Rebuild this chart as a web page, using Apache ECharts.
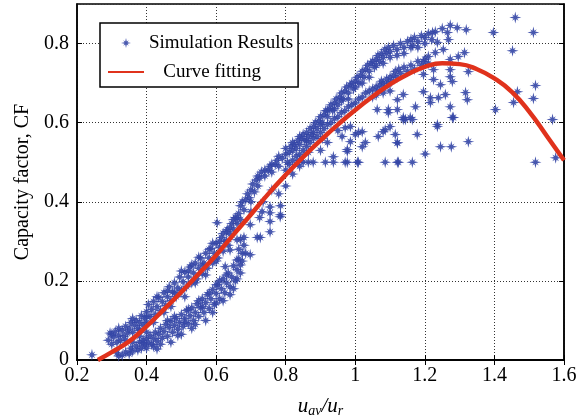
<!DOCTYPE html>
<html>
<head>
<meta charset="utf-8">
<title>Capacity factor</title>
<script src="https://cdn.jsdelivr.net/npm/echarts@6/dist/echarts.min.js"></script>
<style>
  html, body { margin: 0; padding: 0; background: #fff; }
  #chart { width: 580px; height: 417px; }
</style>
</head>
<body>
<div id="chart"></div>
<script>
// x tick labels (u_av/u_r) and y tick labels (CF)
const xTicks = [0.2, 0.4, 0.6, 0.8, 1, 1.2, 1.4, 1.6];
const yTicks = [0, 0.2, 0.4, 0.6, 0.8];

// simulation results, grouped by region
const lowerBand = [
  [0.243, 0.013], [0.315, 0.018], [0.32, 0.01], [0.33, 0.012], [0.34, 0.02], [0.35, 0.015],
  [0.355, 0.03], [0.36, 0.022], [0.37, 0.035], [0.375, 0.025], [0.38, 0.045], [0.385, 0.03],
  [0.39, 0.05], [0.395, 0.038], [0.40, 0.055], [0.40, 0.03], [0.405, 0.045], [0.41, 0.062],
  [0.415, 0.04], [0.42, 0.055], [0.425, 0.07], [0.43, 0.048], [0.435, 0.065], [0.44, 0.08],
  [0.445, 0.055], [0.45, 0.072], [0.455, 0.09], [0.46, 0.06], [0.465, 0.082], [0.47, 0.098],
  [0.475, 0.07], [0.48, 0.088], [0.485, 0.105], [0.49, 0.078], [0.495, 0.095], [0.50, 0.115],
  [0.505, 0.085], [0.51, 0.105], [0.515, 0.125], [0.52, 0.092], [0.525, 0.112], [0.53, 0.132],
  [0.535, 0.10], [0.54, 0.12], [0.545, 0.142], [0.55, 0.11], [0.555, 0.132], [0.56, 0.155],
  [0.565, 0.12], [0.57, 0.145], [0.575, 0.165], [0.58, 0.13], [0.585, 0.155], [0.59, 0.178],
  [0.595, 0.14], [0.60, 0.168], [0.605, 0.19], [0.61, 0.155], [0.615, 0.18], [0.62, 0.205],
  [0.625, 0.17], [0.63, 0.195], [0.635, 0.22], [0.64, 0.185], [0.645, 0.21], [0.65, 0.238],
  [0.655, 0.20], [0.66, 0.228], [0.665, 0.255], [0.67, 0.24], [0.675, 0.27], [0.68, 0.29],
  [0.665, 0.28], [0.67, 0.305], [0.39, 0.043], [0.60, 0.144], [0.43, 0.028],
  [0.36, 0.045], [0.38, 0.06], [0.40, 0.07], [0.42, 0.035], [0.44, 0.04], [0.46, 0.10],
  [0.47, 0.045], [0.48, 0.11], [0.50, 0.065], [0.52, 0.128], [0.53, 0.08], [0.54, 0.09],
  [0.55, 0.15], [0.57, 0.10], [0.58, 0.17], [0.59, 0.12], [0.60, 0.19], [0.61, 0.20],
  [0.62, 0.15], [0.63, 0.215], [0.64, 0.165], [0.65, 0.18], [0.66, 0.205], [0.67, 0.22],
  [0.675, 0.25], [0.68, 0.31], [0.685, 0.27], [0.56, 0.135], [0.51, 0.095], [0.49, 0.062]
];

const upperBand = [
  [0.29, 0.05], [0.295, 0.068], [0.30, 0.04], [0.305, 0.058], [0.31, 0.072], [0.315, 0.045],
  [0.32, 0.062], [0.325, 0.05], [0.33, 0.075], [0.335, 0.06], [0.34, 0.085], [0.345, 0.068],
  [0.35, 0.078], [0.355, 0.095], [0.36, 0.07], [0.365, 0.088], [0.37, 0.10], [0.375, 0.08],
  [0.38, 0.095], [0.385, 0.112], [0.39, 0.088], [0.395, 0.105], [0.40, 0.122], [0.40, 0.095],
  [0.405, 0.14], [0.41, 0.11], [0.415, 0.128], [0.42, 0.148], [0.425, 0.115], [0.43, 0.135],
  [0.435, 0.158], [0.44, 0.125], [0.445, 0.148], [0.45, 0.17], [0.455, 0.138], [0.46, 0.16],
  [0.465, 0.185], [0.47, 0.15], [0.475, 0.172], [0.48, 0.195], [0.485, 0.16], [0.49, 0.182],
  [0.495, 0.21], [0.50, 0.175], [0.505, 0.198], [0.51, 0.222], [0.515, 0.185], [0.52, 0.21],
  [0.525, 0.235], [0.53, 0.195], [0.535, 0.22], [0.54, 0.245], [0.545, 0.205], [0.55, 0.232],
  [0.555, 0.258], [0.56, 0.218], [0.565, 0.245], [0.57, 0.27], [0.575, 0.232], [0.58, 0.258],
  [0.585, 0.282], [0.59, 0.245], [0.595, 0.27], [0.60, 0.295], [0.605, 0.258], [0.61, 0.285],
  [0.615, 0.31], [0.62, 0.275], [0.625, 0.30], [0.63, 0.325], [0.635, 0.29], [0.64, 0.318],
  [0.645, 0.345], [0.65, 0.33], [0.655, 0.36], [0.66, 0.345], [0.665, 0.37], [0.67, 0.355],
  [0.675, 0.40], [0.685, 0.405], [0.695, 0.41], [0.70, 0.43], [0.705, 0.445], [0.71, 0.425],
  [0.715, 0.455], [0.72, 0.44], [0.725, 0.46], [0.73, 0.475], [0.74, 0.465], [0.75, 0.48],
  [0.755, 0.49], [0.76, 0.475], [0.77, 0.495], [0.775, 0.505], [0.78, 0.49], [0.79, 0.51],
  [0.80, 0.52], [0.805, 0.50],
  [0.30, 0.065], [0.32, 0.08], [0.34, 0.05], [0.36, 0.105], [0.38, 0.075], [0.40, 0.11],
  [0.42, 0.095], [0.43, 0.16], [0.45, 0.12], [0.46, 0.175], [0.47, 0.135], [0.48, 0.17],
  [0.50, 0.225], [0.51, 0.16], [0.52, 0.225], [0.53, 0.24], [0.54, 0.195], [0.55, 0.26],
  [0.56, 0.24], [0.57, 0.215], [0.58, 0.28], [0.59, 0.295], [0.60, 0.25], [0.61, 0.30],
  [0.62, 0.32], [0.63, 0.30], [0.64, 0.335], [0.65, 0.355], [0.66, 0.36], [0.67, 0.39],
  [0.68, 0.38], [0.69, 0.42], [0.70, 0.40], [0.72, 0.465], [0.74, 0.48], [0.76, 0.495],
  [0.78, 0.515], [0.80, 0.535]
];

const upperBandHigh = [
  [0.81, 0.525], [0.815, 0.54], [0.82, 0.53], [0.825, 0.545], [0.83, 0.535], [0.835, 0.555],
  [0.84, 0.545], [0.845, 0.56], [0.85, 0.57], [0.855, 0.555], [0.86, 0.575], [0.865, 0.565],
  [0.87, 0.585], [0.875, 0.57], [0.88, 0.59], [0.885, 0.60], [0.89, 0.585], [0.895, 0.605],
  [0.90, 0.615], [0.905, 0.60], [0.91, 0.62], [0.915, 0.63], [0.92, 0.615], [0.925, 0.635],
  [0.93, 0.645], [0.935, 0.63], [0.94, 0.65], [0.945, 0.66], [0.95, 0.645], [0.955, 0.665],
  [0.96, 0.675], [0.965, 0.66], [0.97, 0.68], [0.975, 0.69], [0.98, 0.675], [0.985, 0.695],
  [0.99, 0.70], [0.995, 0.685], [1.0, 0.705], [1.005, 0.715], [1.01, 0.70], [1.015, 0.72],
  [1.02, 0.73], [1.025, 0.715], [1.03, 0.735], [1.035, 0.745], [1.04, 0.73], [1.045, 0.75],
  [1.05, 0.755], [1.055, 0.74], [1.06, 0.76], [1.065, 0.77], [1.07, 0.755], [1.075, 0.775],
  [1.08, 0.765], [1.085, 0.785], [1.09, 0.775], [1.095, 0.79], [1.10, 0.78], [1.11, 0.795],
  [1.12, 0.785], [1.13, 0.80], [1.14, 0.79], [1.15, 0.805], [1.16, 0.81], [1.165, 0.795],
  [1.17, 0.815], [1.18, 0.805], [1.19, 0.82], [1.20, 0.815], [1.21, 0.825],
  [0.82, 0.55], [0.84, 0.565], [0.86, 0.555], [0.88, 0.575], [0.90, 0.595], [0.92, 0.63],
  [0.94, 0.635], [0.96, 0.655], [0.98, 0.66], [1.0, 0.69], [1.02, 0.70], [1.04, 0.715],
  [1.06, 0.745], [1.08, 0.75], [1.10, 0.765], [1.12, 0.77], [1.14, 0.775], [1.16, 0.79],
  [1.18, 0.79], [1.20, 0.80], [1.22, 0.81], [1.23, 0.83]
];

const midCloud = [
  [0.80, 0.48], [0.81, 0.495], [0.82, 0.505], [0.83, 0.515], [0.835, 0.50], [0.84, 0.52],
  [0.85, 0.53], [0.86, 0.54], [0.865, 0.525], [0.87, 0.55], [0.88, 0.56], [0.89, 0.565],
  [0.90, 0.575], [0.905, 0.56], [0.91, 0.585], [0.92, 0.595], [0.93, 0.60], [0.94, 0.61],
  [0.95, 0.615], [0.96, 0.625], [0.97, 0.63], [0.98, 0.64], [0.99, 0.645], [1.0, 0.65],
  [1.01, 0.66], [1.02, 0.665], [1.03, 0.675], [1.04, 0.68], [1.05, 0.685], [1.06, 0.69],
  [1.065, 0.68], [1.07, 0.695], [1.075, 0.705], [1.08, 0.70], [1.085, 0.69], [1.09, 0.71],
  [1.095, 0.70], [1.10, 0.715], [1.105, 0.705], [1.11, 0.72], [1.115, 0.73], [1.12, 0.715],
  [1.125, 0.735], [1.13, 0.725], [1.14, 0.74], [1.15, 0.73], [1.16, 0.745], [1.17, 0.735],
  [1.18, 0.755], [1.19, 0.745], [1.20, 0.76], [1.21, 0.75], [1.05, 0.665], [1.06, 0.67],
  [1.08, 0.675], [1.10, 0.68]
];

const peakCloud = [
  [1.46, 0.866], [1.512, 0.828], [1.397, 0.828], [1.452, 0.782], [1.319, 0.835], [1.293, 0.84],
  [1.273, 0.846], [1.265, 0.828], [1.25, 0.838], [1.222, 0.828], [1.268, 0.81], [1.236, 0.803],
  [1.253, 0.785], [1.23, 0.777], [1.21, 0.767], [1.296, 0.767], [1.314, 0.777], [1.196, 0.754],
  [1.273, 0.76], [1.225, 0.734], [1.273, 0.734], [1.325, 0.729], [1.273, 0.716], [1.196, 0.722],
  [1.225, 0.709], [1.279, 0.704], [1.245, 0.696], [1.196, 0.678], [1.518, 0.694], [1.466, 0.678],
  [1.317, 0.676], [1.259, 0.671], [1.216, 0.663], [1.239, 0.663], [1.322, 0.658], [1.512, 0.661],
  [1.455, 0.651], [1.173, 0.64], [1.273, 0.64], [1.216, 0.651], [1.403, 0.633], [1.138, 0.671],
  [1.121, 0.658], [1.095, 0.633], [1.138, 0.613], [1.158, 0.613], [1.279, 0.613], [1.567, 0.608],
  [1.236, 0.595], [1.10, 0.59], [1.08, 0.577], [1.178, 0.57], [1.121, 0.549], [1.325, 0.552],
  [1.245, 0.539], [1.276, 0.539], [1.201, 0.521]
];

const scatterPts = [
  [0.603, 0.347], [0.632, 0.329], [0.66, 0.304], [0.698, 0.342], [0.732, 0.375], [0.725, 0.36],
  [0.755, 0.372], [0.755, 0.35], [0.784, 0.362], [0.727, 0.31], [0.755, 0.324], [0.698, 0.266],
  [0.718, 0.31], [0.66, 0.253], [0.626, 0.236], [0.64, 0.278], [0.735, 0.40], [0.755, 0.387],
  [0.785, 0.39], [0.785, 0.367], [0.70, 0.375], [0.78, 0.42], [0.80, 0.44], [0.76, 0.43],
  [0.82, 0.47], [0.84, 0.49], [0.962, 0.565], [0.986, 0.552], [0.977, 0.527], [1.029, 0.55],
  [1.0, 0.57], [1.02, 0.577], [1.066, 0.565], [1.086, 0.582], [1.095, 0.625], [1.063, 0.633],
  [1.121, 0.549], [1.138, 0.608], [0.971, 0.587], [0.986, 0.59], [1.009, 0.575], [1.02, 0.539],
  [1.115, 0.57], [1.144, 0.608], [1.164, 0.608], [1.236, 0.59], [1.282, 0.613], [1.121, 0.633],
  [0.937, 0.514], [0.977, 0.532], [0.92, 0.55], [0.90, 0.53], [0.95, 0.58]
];

const rowHalf = [
  [0.84, 0.505], [0.85, 0.50], [0.865, 0.50], [0.879, 0.50], [0.914, 0.50], [0.937, 0.50],
  [0.971, 0.50], [0.977, 0.50], [1.006, 0.50], [1.009, 0.50], [1.086, 0.50], [1.121, 0.50],
  [1.124, 0.50], [1.164, 0.50], [1.518, 0.50], [1.576, 0.511]
];

// fitted curve
const fitX = [0.26, 0.30, 0.35, 0.40, 0.45, 0.50, 0.55, 0.60, 0.65, 0.70, 0.75, 0.80, 0.85, 0.90,
  0.95, 1.00, 1.05, 1.10, 1.15, 1.20, 1.25, 1.30, 1.35, 1.40, 1.45, 1.50, 1.55, 1.60];
const fitY = [0.0, 0.02, 0.047, 0.085, 0.128, 0.172, 0.218, 0.265, 0.317, 0.368, 0.42, 0.468, 0.513,
  0.555, 0.595, 0.632, 0.666, 0.697, 0.722, 0.741, 0.75, 0.748, 0.735, 0.712, 0.678, 0.628, 0.567, 0.505];

const simPoints = [].concat(lowerBand, upperBand, upperBandHigh, midCloud, peakCloud, scatterPts, rowHalf);
const fitPoints = fitX.map((x, i) => [x, fitY[i]]);

// matlab style '*' marker
const STAR = 'path://M0,-10 L1.6,-3 L5.5,-5.5 L3,-1.6 L10,0 L3,1.6 L5.5,5.5 L1.6,3 L0,10 L-1.6,3 L-5.5,5.5 L-3,1.6 L-10,0 L-3,-1.6 L-5.5,-5.5 L-1.6,-3 Z';
const FONT = 'Liberation Serif';

const chart = echarts.init(document.getElementById('chart'), null, { renderer: 'canvas' });

const gridLine = { show: true, lineStyle: { color: '#333', width: 1, type: [1, 2] } };
const tick = { show: true, inside: true, length: 5, lineStyle: { color: '#000' } };

let option = {
  animation: false,
  backgroundColor: '#fff',
  grid: {
    left: 77, right: 16, top: 4, bottom: 57,
    outerBoundsMode: 'none', containLabel: false,
    show: true, borderColor: '#000', borderWidth: 1.5
  },
  legend: {
    left: 100,
    top: 23,
    orient: 'vertical',
    backgroundColor: '#fff',
    borderColor: '#000',
    borderWidth: 1.5,
    borderRadius: 0,
    padding: [10, 5, 5, 7],
    itemGap: 9,
    itemWidth: 36,
    itemHeight: 10,
    textStyle: { fontFamily: FONT, fontSize: 19, color: '#000', lineHeight: 20 },
    formatter: name => name === 'Curve fitting' ? '   ' + name : name,
    data: [
      { name: 'Simulation Results', icon: STAR },
      { name: 'Curve fitting' }
    ]
  },
  xAxis: [{
    type: 'value',
    min: xTicks[0],
    max: xTicks[xTicks.length - 1],
    interval: 0.2,
    axisLine: { show: true, lineStyle: { color: '#000', width: 1.5 } },
    axisTick: tick,
    splitLine: gridLine,
    axisLabel: { fontFamily: FONT, fontSize: 20, color: '#000', margin: 6 },
    name: '{i|u}{s|av}{i|/u}{s|r}',
    nameLocation: 'middle',
    nameGap: 34,
    nameTextStyle: {
      fontFamily: FONT, fontSize: 20, color: '#000',
      rich: {
        i: { fontFamily: FONT, fontStyle: 'italic', fontSize: 21, lineHeight: 24 },
        s: { fontFamily: FONT, fontStyle: 'italic', fontSize: 14, lineHeight: 14, verticalAlign: 'bottom', padding: [10, 0, 0, 0] }
      }
    }
  }, {
    type: 'value', position: 'top',
    min: xTicks[0], max: xTicks[xTicks.length - 1], interval: 0.2,
    axisLine: { show: true, lineStyle: { color: '#000', width: 1.5 } },
    axisTick: tick, axisLabel: { show: false }, splitLine: { show: false }
  }],
  yAxis: [{
    type: 'value',
    min: yTicks[0],
    max: 0.9,
    interval: 0.2,
    axisLine: { show: true, lineStyle: { color: '#000', width: 1.5 } },
    axisTick: tick,
    splitLine: gridLine,
    axisLabel: { fontFamily: FONT, fontSize: 20, color: '#000', margin: 8, showMaxLabel: false },
    name: 'Capacity factor, CF',
    nameLocation: 'middle',
    nameGap: 44,
    nameTextStyle: { fontFamily: FONT, fontSize: 20, color: '#000' }
  }, {
    type: 'value', position: 'right',
    min: yTicks[0], max: 0.9, interval: 0.2,
    axisLine: { show: true, lineStyle: { color: '#000', width: 1.5 } },
    axisTick: tick, axisLabel: { show: false }, splitLine: { show: false }
  }],
  series: [{
    name: 'Simulation Results',
    type: 'scatter',
    data: simPoints,
    symbol: STAR,
    symbolSize: 12,
    itemStyle: { color: '#3446a6', opacity: 0.9 }
  }, {
    name: 'Curve fitting',
    type: 'line',
    data: fitPoints,
    smooth: true,
    symbol: 'circle',
    showSymbol: false,
    lineStyle: { color: '#e0321c', width: 4.5 },
    // keeps the legend icon a plain line
    itemStyle: { color: '#e0321c', opacity: 0 },
    z: 3
  }]
};

chart.setOption(option);
</script>
</body>
</html>
